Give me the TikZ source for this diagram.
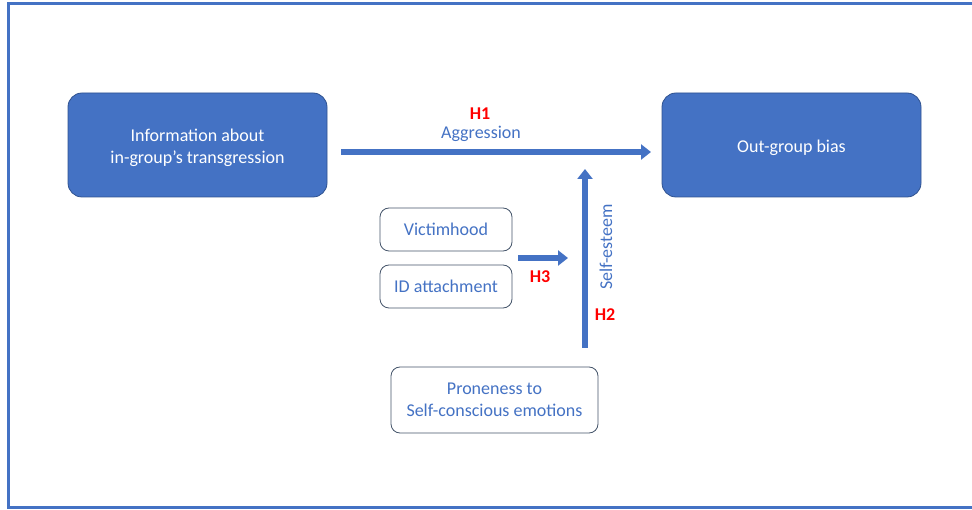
\documentclass[tikz,border=0pt]{standalone}
\usepackage{fontspec}
\setmainfont{Carlito}
\usetikzlibrary{arrows.meta}
\definecolor{obl}{HTML}{4472C4}
\definecolor{obd}{HTML}{2F528F}
\definecolor{hred}{HTML}{FF0000}
\definecolor{bgray}{HTML}{44546A}
\tikzset{
  bluebox/.style={draw=obd, line width=0.8pt, fill=obl, rounded corners=14pt, inner sep=0pt},
  boxtext/.style={text=white, font=\fontsize{18}{22}\selectfont, align=center, inner sep=0pt},
  whitebox/.style={draw=bgray, line width=0.8pt, fill=white, rounded corners=9pt, text=obl, font=\fontsize{18}{22}\selectfont, align=center, inner sep=0pt},
  blockarrow/.style={draw=obl, line width=6pt, -{Triangle[length=10pt,width=15pt]}},
  hlabel/.style={text=hred, font=\bfseries\fontsize{18}{22}\selectfont},
  alabel/.style={text=obl, font=\fontsize{18}{22}\selectfont}
}
\begin{document}
\begin{tikzpicture}[x=1pt,y=-1pt]
\useasboundingbox (0,0) rectangle (972,510);
\begin{scope}
\clip (0,0) rectangle (972,510);
\draw[obl, line width=3pt] (8,4) rectangle (985,507);
\end{scope}
\node[bluebox, minimum width=259pt, minimum height=104pt] (info) at (197.5,145) {};
\node[boxtext] (infot) at (197.5,148) {Information about\\in-group’s transgression};
\node[bluebox, minimum width=259pt, minimum height=104pt] (out) at (791.5,145) {};
\node[boxtext] (outt) at (791.5,147.5) {Out-group bias};
\node[whitebox, minimum width=132pt, minimum height=43pt] (vic) at (446,229.5) {Victimhood};
\node[whitebox, minimum width=132pt, minimum height=43pt] (ida) at (446,286.5) {ID attachment};
\node[whitebox, minimum width=207pt, minimum height=66pt] (pro) at (494.5,400) {Proneness to\\Self-conscious emotions};
\coordinate (h1s) at (341,152);
\coordinate (h1e) at (651,152);
\coordinate (h3s) at (518,258);
\coordinate (h3e) at (568,258);
\coordinate (h2s) at (585,348);
\coordinate (h2e) at (585,169);
\draw[blockarrow] (h1s) -- (h1e);
\draw[blockarrow] (h3s) -- (h3e);
\draw[blockarrow] (h2s) -- (h2e);
\node[hlabel] (h1) at (480,114) {H1};
\node[alabel] (agg) at (481,133.5) {Aggression};
\node[hlabel] (h3) at (540,277) {H3};
\node[hlabel] (h2) at (605,315) {H2};
\node[alabel, rotate=90] (se) at (606,247) {Self-esteem};
\end{tikzpicture}
\end{document}
